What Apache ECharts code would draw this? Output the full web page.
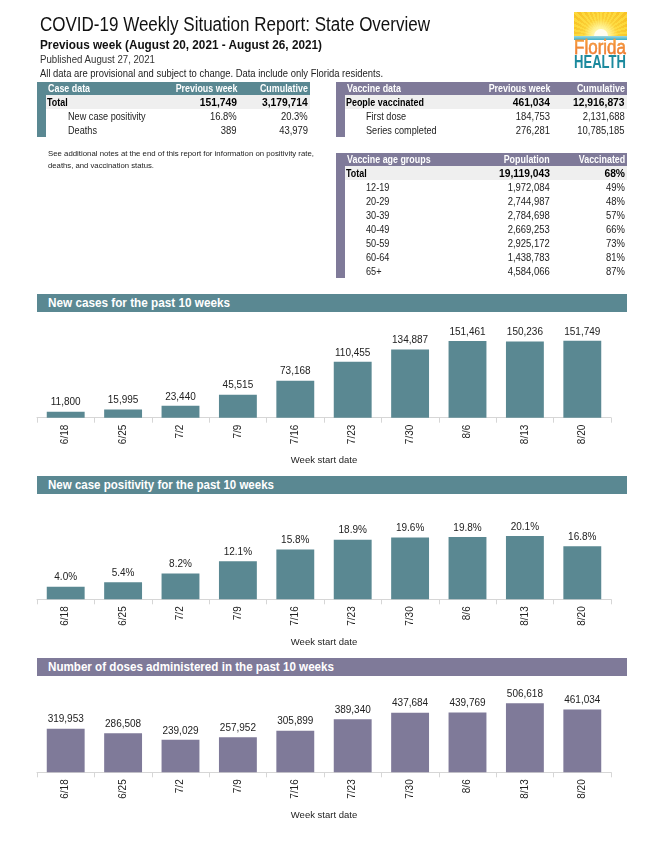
<!DOCTYPE html>
<html><head><meta charset="utf-8">
<script src="https://cdn.jsdelivr.net/npm/echarts@6/dist/echarts.min.js"></script>
<style>
html,body{margin:0;padding:0;background:#fff;}
#page{position:relative;width:651px;height:843px;overflow:hidden;font-family:'Liberation Sans',Arial,sans-serif;color:#1a1a1a;}
#chart{position:absolute;left:0;top:0;width:651px;height:843px;}
.t{position:absolute;white-space:nowrap;}
.bar{position:absolute;}
</style></head>
<body>
<div id="page">
<div id="chart"></div>
</div>
<script>
// ---- data ----
const weeks = ['6/18','6/25','7/2','7/9','7/16','7/23','7/30','8/6','8/13','8/20'];
const newCases = [11800,15995,23440,45515,73168,110455,134887,151461,150236,151749];
const positivity = [4.0,5.4,8.2,12.1,15.8,18.9,19.6,19.8,20.1,16.8];
const doses = [319953,286508,239029,257952,305899,389340,437684,439769,506618,461034];

const caseHeader = ['Case data','Previous week','Cumulative'];
const caseRows = [['Total','151,749','3,179,714'],['New case positivity','16.8%','20.3%'],['Deaths','389','43,979']];
const vaxHeader = ['Vaccine data','Previous week','Cumulative'];
const vaxRows = [['People vaccinated','461,034','12,916,873'],['First dose','184,753','2,131,688'],['Series completed','276,281','10,785,185']];
const ageHeader = ['Vaccine age groups','Population','Vaccinated'];
const ageRows = [['Total','19,119,043','68%'],['12-19','1,972,084','49%'],['20-29','2,744,987','48%'],['30-39','2,784,698','57%'],['40-49','2,669,253','66%'],['50-59','2,925,172','73%'],['60-64','1,438,783','81%'],['65+','4,584,066','87%']];

const TEAL = '#5a8892';
const PURPLE = '#7f7a99';
const FONT = "'Liberation Sans',Arial,sans-serif";

const page = document.getElementById('page');
function el(cls, style, text, parent){
  const d = document.createElement('div');
  d.className = cls; d.setAttribute('style', style);
  if (text !== undefined) d.textContent = text;
  (parent||page).appendChild(d); return d;
}
// squeeze text horizontally to a target width (condensed look)
function fit(d, target, origin){
  const w = d.getBoundingClientRect().width;
  if (w > 0) { d.style.transformOrigin = (origin||'left') + ' center'; d.style.transform = 'scaleX(' + (target/w) + ')'; }
  return d;
}
function squeeze(d, k, origin){
  d.style.transformOrigin = (origin||'left') + ' center'; d.style.transform = 'scaleX(' + k + ')';
  return d;
}

// ---- header text ----
fit(el('t','left:40px;top:13px;font-size:20px;line-height:22px;color:#111;','COVID-19 Weekly Situation Report: State Overview'), 390);
fit(el('t','left:40px;top:37px;font-size:13px;line-height:16px;font-weight:bold;color:#111;','Previous week (August 20, 2021 - August 26, 2021)'), 282);
fit(el('t','left:40px;top:54px;font-size:10px;line-height:12px;color:#333;','Published August 27, 2021'), 115);
fit(el('t','left:40px;top:68px;font-size:10px;line-height:12px;color:#222;','All data are provisional and subject to change. Data include only Florida residents.'), 343);

// ---- logo ----
const logo = el('bar','left:574px;top:12px;width:53px;height:59px;overflow:hidden;');
const sky = el('bar','left:0;top:0;width:53px;height:24px;overflow:hidden;background:radial-gradient(circle at 50% 100%, rgba(255,255,235,1) 0px, rgba(255,246,160,0.9) 9px, rgba(255,226,80,0.4) 17px, rgba(255,210,40,0) 30px), repeating-conic-gradient(from 0deg at 50% 100%, #fdd83a 0deg 5deg, #f8c327 5deg 10deg), linear-gradient(#f6b21e,#fcd53a);', undefined, logo);
el('bar','left:19.5px;top:17px;width:14px;height:14px;border-radius:50%;background:#fffdf0;', undefined, sky);
el('bar','left:0;top:23.5px;width:53px;height:4.5px;background:linear-gradient(#9ad8e3,#3cafc6);', undefined, logo);
const fl = el('t','left:0;top:25.5px;font-family:\'Liberation Sans\',Arial,sans-serif;font-size:19.5px;line-height:19.5px;background:linear-gradient(#f8a83e,#ec6b2c);-webkit-background-clip:text;background-clip:text;color:transparent;-webkit-text-stroke:0.35px #f08a38;','Florida', logo);
fit(fl, 52);
const hl = el('t','left:0;top:42px;font-family:\'Liberation Sans\',Arial,sans-serif;font-weight:bold;font-size:17.7px;line-height:17.7px;color:#1c8a9e;','HEALTH', logo);
fit(hl, 52);

// ---- tables ----
function table(x, y, w, color, header, rows, r1, r2, indent){
  const hh = 13, rh = 14;
  el('bar',`left:${x}px;top:${y}px;width:${w}px;height:${hh}px;background:${color};`);
  el('bar',`left:${x}px;top:${y}px;width:9px;height:${hh+rows.length*rh}px;background:${color};`);
  el('bar',`left:${x+9}px;top:${y+hh}px;width:${w-9}px;height:${rh}px;background:#efefef;`);
  const hs = `font-size:10px;line-height:${hh}px;font-weight:bold;color:#fff;top:${y}px;`;
  squeeze(el('t',`left:${x+11}px;${hs}`,header[0]),0.89,'left');
  squeeze(el('t',`right:${651-(x+r1)}px;${hs}`,header[1]),0.89,'right');
  squeeze(el('t',`right:${651-(x+r2)}px;${hs}`,header[2]),0.89,'right');
  rows.forEach((r,i)=>{
    const top = y+hh+i*rh;
    const b = i===0 ? 'font-weight:bold;color:#000;font-size:10.5px;' : 'color:#222;font-size:10.5px;';
    const s = `line-height:${rh}px;top:${top}px;${b}`;
    squeeze(el('t',`left:${x+(i===0?10:indent)}px;${s}`,r[0]), i===0?0.85:0.87, 'left');
    squeeze(el('t',`right:${651-(x+r1)}px;${s}`,r[1]), i===0?0.98:0.9, 'right');
    squeeze(el('t',`right:${651-(x+r2)}px;${s}`,r[2]), i===0?0.98:0.9, 'right');
  });
}
table(37,82,273,TEAL,caseHeader,caseRows,200,271,31);
table(336,82,291,PURPLE,vaxHeader,vaxRows,214,289,30);
table(336,153,291,PURPLE,ageHeader,ageRows,214,289,30);

fit(el('t','left:48px;top:148px;font-size:7.5px;line-height:11px;color:#222;','See additional notes at the end of this report for information on positivity rate,'), 266);
fit(el('t','left:48px;top:160px;font-size:7.5px;line-height:11px;color:#222;','deaths, and vaccination status.'), 106);

// ---- chart section headers ----
const sections = [
  {top:294, h:18, color:TEAL, text:'New cases for the past 10 weeks', w:182},
  {top:476, h:18, color:TEAL, text:'New case positivity for the past 10 weeks', w:226},
  {top:658, h:18, color:PURPLE, text:'Number of doses administered in the past 10 weeks', w:286}
];
sections.forEach(s=>{
  el('bar',`left:37px;top:${s.top}px;width:590px;height:${s.h}px;background:${s.color};`);
  fit(el('t',`left:48px;top:${s.top}px;font-size:12.5px;line-height:${s.h}px;font-weight:bold;color:#fff;`,s.text), s.w);
});

// ---- charts ----
const chart = echarts.init(document.getElementById('chart'), null, {renderer:'canvas'});
const grids = [
  {top:316.4, height:101.3, max:200000},
  {top:520.5, height:78.8, max:25},
  {top:690.6, height:81.7, max:600000}
];
const seriesData = [newCases, positivity, doses];
const colors = [TEAL, TEAL, PURPLE];
const fmts = [
  v=>v.toLocaleString('en-US'),
  v=>v.toFixed(1)+'%',
  v=>v.toLocaleString('en-US')
];
const option = {
  animation:false,
  grid: grids.map(g=>({left:37, width:574, top:g.top, height:g.height, containLabel:false})),
  xAxis: grids.map((g,i)=>({
    type:'category', gridIndex:i, data:weeks,
    axisLine:{show:true, lineStyle:{color:'#d6d6d6', width:1}},
    axisTick:{show:true, length:5, lineStyle:{color:'#d6d6d6'}},
    axisLabel:{rotate:90, fontFamily:FONT, fontSize:10, color:'#222', margin:7},
    name:'Week start date', nameLocation:'middle', nameGap:38,
    nameTextStyle:{fontFamily:FONT, fontSize:9.5, color:'#222'}
  })),
  yAxis: grids.map((g,i)=>({type:'value', gridIndex:i, min:0, max:g.max, show:false, splitLine:{show:false}})),
  series: seriesData.map((d,i)=>({
    type:'bar', xAxisIndex:i, yAxisIndex:i, data:d, barWidth:'66%',
    itemStyle:{color:colors[i]},
    label:{show:true, position:'top', distance:4, fontFamily:FONT, fontSize:10, color:'#222',
      formatter:p=>fmts[i](p.value)}
  }))
};
chart.setOption(option);
</script>
</body></html>
